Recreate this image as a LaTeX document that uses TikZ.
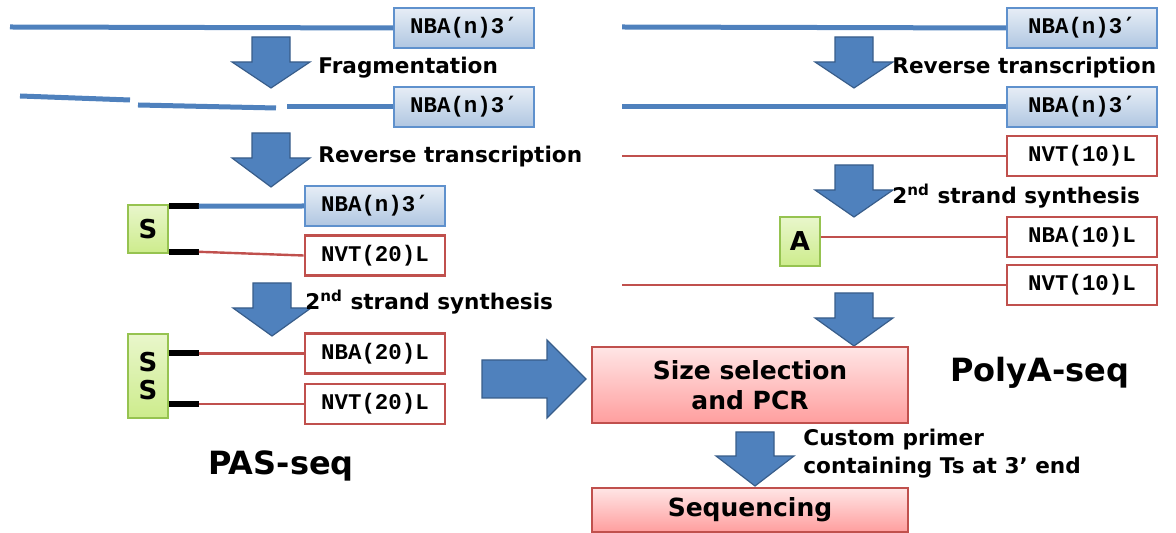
\documentclass[tikz,border=0pt]{standalone}
\usepackage{fontspec}
\setsansfont{DejaVu Sans}
\setmonofont{Liberation Mono}
\newfontfamily\primefont{DejaVu Sans Mono}
\usetikzlibrary{positioning, shadows}
\definecolor{seqblue}{RGB}{79,129,189}
\definecolor{seqbluedk}{RGB}{56,93,138}
\definecolor{boxblue}{RGB}{95,145,205}
\definecolor{seqred}{RGB}{192,80,77}
\definecolor{adgreen}{RGB}{150,195,80}
\definecolor{adlime}{RGB}{205,236,140}
\newcommand{\tprime}{{\primefont\bfseries ′}}
\newcommand{\downblock}[4]{%
  \draw[fatarrow] (#1-19,#2) -- (#1+19,#2) -- (#1+19,#3) -- (#1+39,#3)
    -- (#1,#4) -- (#1-39,#3) -- (#1-19,#3) -- cycle;}
\tikzset{
  strand/.style={line width=2.5pt, draw=seqblue},
  cstrand/.style={line width=1.2pt, draw=seqred},
  linker/.style={line width=3pt, draw=black},
  fatarrow/.style={fill=seqblue, draw=seqbluedk, line width=0.6pt},
  rnabox/.style={draw=boxblue, line width=0.8pt, top color=seqblue!14!white,
    bottom color=seqblue!45!white, minimum width=70pt, minimum height=20pt,
    inner sep=0pt, font=\ttfamily\bfseries\fontsize{11.2}{12}\selectfont,
    drop shadow={shadow xshift=0.7pt, shadow yshift=-0.7pt, opacity=0.25}},
  dnabox/.style={rnabox, draw=seqred, line width=1.4pt, fill=white,
    top color=white, bottom color=white},
  adbox/.style={draw=adgreen, line width=0.8pt, top color=adlime!45!white,
    bottom color=adlime, minimum width=20pt, inner sep=0pt,
    font=\sffamily\bfseries\fontsize{13}{15}\selectfont,
    drop shadow={shadow xshift=0.7pt, shadow yshift=-0.7pt, opacity=0.25}},
  stepbox/.style={draw=seqred, line width=0.9pt, top color=red!10!white,
    bottom color=red!38!white, minimum width=158pt, inner sep=0pt,
    align=center, font=\sffamily\bfseries\fontsize{12.5}{15}\selectfont,
    drop shadow={shadow xshift=0.7pt, shadow yshift=-0.7pt, opacity=0.25}},
  steplbl/.style={anchor=west, inner sep=0pt, align=left,
    font=\sffamily\bfseries\fontsize{10.8}{14}\selectfont},
  protlbl/.style={inner sep=0pt, font=\sffamily\bfseries\fontsize{16}{18}\selectfont}
}
\begin{document}
\begin{tikzpicture}[x=0.5pt, y=-0.5pt]
  \useasboundingbox (0,0) rectangle (1176,533);
  % ---- PAS-seq (left) ----
  \node[rnabox] (l1) at (464,28) {NBA(n)3\tprime};
  \coordinate (l1s) at (10,27);
  \draw[strand] (l1s) -- (l1.west);
  \downblock{271}{37}{62}{88}
  \node[steplbl] (frag) at (318,68) {Fragmentation};
  % fragments
  \node[rnabox] (l2) at (464,107) {NBA(n)3\tprime};
  \draw[strand] (20,96) -- (130,100);
  \draw[strand] (138,105) -- (276,108);
  \coordinate (l2s) at (287,107);
  \draw[strand] (l2s) -- (l2.west);
  \downblock{271}{133}{158}{187}
  \node[steplbl] (lrt) at (318,157) {Reverse transcription};
  % first strand
  \node[adbox, minimum height=24pt] (s1) at (148,229) {S};
  \node[rnabox] (l3) at (375,206) {NBA(n)3\tprime};
  \node[dnabox] (l4) at (375,255.5) {NVT(20)L};
  \coordinate (s1a) at ([yshift=-1pt]s1.north east);
  \coordinate (s1b) at ([yshift=1pt]s1.south east);
  \draw[linker] (s1a) -- ++(30,0) coordinate (k1);
  \draw[strand] (k1) -- (l3.west);
  \draw[linker] (s1b) -- ++(30,0) coordinate (k2);
  \draw[cstrand] (k2) -- (l4.west);
  \downblock{272}{283}{308}{336}
  \node[steplbl] (lss) at (305,302) {2\textsuperscript{nd} strand synthesis};
  % double strand
  \node[adbox, minimum height=42pt, align=center] (s2) at (148,376) {S\\[-1pt]S};
  \node[dnabox] (l5) at (375,353.5) {NBA(20)L};
  \node[dnabox] (l6) at (375,404) {NVT(20)L};
  \draw[linker] (s2.east |- l5) -- ++(30,0) coordinate (k3);
  \draw[cstrand] (k3) -- (l5.west);
  \draw[linker] (s2.east |- l6) -- ++(30,0) coordinate (k4);
  \draw[cstrand] (k4) -- (l6.west);
  \node[protlbl] (pas) at (281,466) {PAS-seq};
  % ---- PolyA-seq (right) ----
  \node[rnabox, minimum width=75pt] (r1) at (1082,28) {NBA(n)3\tprime};
  \coordinate (r1s) at (622,27);
  \draw[strand] (r1s) -- (r1.west);
  \downblock{854}{37}{62}{88}
  \node[steplbl] (rrt) at (892,68) {Reverse transcription};
  \node[rnabox, minimum width=75pt] (r2) at (1082,107) {NBA(n)3\tprime};
  \coordinate (r2s) at (622,107);
  \draw[strand] (r2s) -- (r2.west);
  \node[dnabox, minimum width=75pt] (r3) at (1082,156) {NVT(10)L};
  \coordinate (r3s) at (622,156);
  \draw[cstrand] (r3s) -- (r3.west);
  \downblock{854}{165}{190}{217}
  \node[steplbl] (rss) at (892,196) {2\textsuperscript{nd} strand synthesis};
  \node[adbox, minimum height=24.5pt] (a1) at (800,241.5) {A};
  \node[dnabox, minimum width=75pt] (r4) at (1082,237) {NBA(10)L};
  \draw[cstrand] (a1.east |- r4) -- (r4.west);
  \node[dnabox, minimum width=75pt] (r5) at (1082,285) {NVT(10)L};
  \coordinate (r5s) at (622,285);
  \draw[cstrand] (r5s) -- (r5.west);
  \downblock{854}{293}{318}{346}
  \node[protlbl] (polya) at (1040,373) {PolyA-seq};
  % ---- common steps ----
  \node[stepbox, minimum height=38pt] (sel) at (750,385) {Size selection\\and PCR};
  \draw[fatarrow] (482,360) -- (547,360) -- (547,340) -- (586,379)
    -- (547,418) -- (547,398) -- (482,398) -- cycle;
  \downblock{755}{432}{456}{486}
  \node[steplbl] (prim) at (803,454) {Custom primer\\containing Ts at 3’ end};
  \node[stepbox, minimum height=22pt] (seq) at (750,510) {Sequencing};
\end{tikzpicture}
\end{document}
